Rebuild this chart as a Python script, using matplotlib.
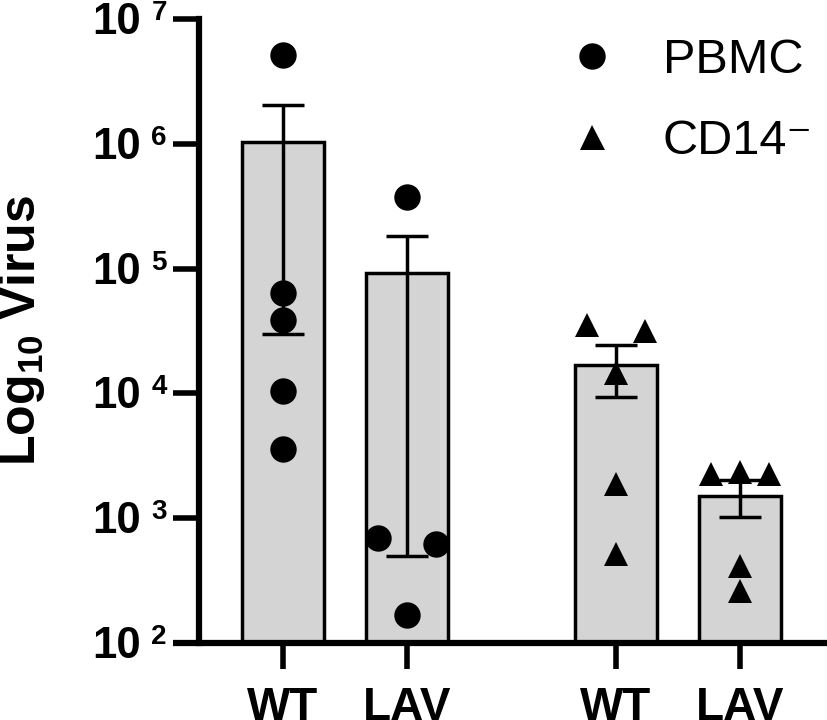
import matplotlib
matplotlib.use('Agg')
import matplotlib.pyplot as plt
from matplotlib.lines import Line2D
from matplotlib.ticker import NullLocator, FixedLocator, NullFormatter

plt.rcParams['font.family'] = ['Liberation Sans', 'DejaVu Sans']
plt.rcParams['mathtext.fontset'] = 'custom'
plt.rcParams['mathtext.rm'] = 'Liberation Sans:bold'
plt.rcParams['mathtext.it'] = 'Liberation Sans:bold'
plt.rcParams['mathtext.bf'] = 'Liberation Sans:bold'

# ---- data ----
group_labels = ['WT', 'LAV', 'WT', 'LAV']
legend_labels = ['PBMC', 'CD14\u207b']
means = [1.04e6, 9.2e4, 1.69e4, 1.52e3]
sems = [1.01e6, 9.15e4, 7.5e3, 5.0e2]
pbmc_wt = [5.15e6, 6.4e4, 3.9e4, 1.04e4, 3.6e3]
pbmc_lav = [3.75e5, 689, 619, 167]
cd14_wt = [3.56e4, 3.15e4, 1.47e4, 1.87e3, 515]
cd14_lav = [2.25e3, 2.35e3, 2.25e3, 415, 262]
ytick_values = [1e2, 1e3, 1e4, 1e5, 1e6, 1e7]
ytick_base = '10'
ytick_exponents = ['2', '3', '4', '5', '6', '7']

# ---- layout (positions / scatter spread) ----
positions = [0, 1, 2.685, 3.685]
spread = 0.236
jitter_pbmc_wt = [0, 0, 0, 0, 0]
jitter_pbmc_lav = [0, -spread, spread, 0]
jitter_cd14_wt = [-spread, spread, 0, 0, 0]
jitter_cd14_lav = [-spread, 0, spread, 0, 0]

fig = plt.figure(figsize=(8.27, 7.2), dpi=100)
ax = fig.add_axes([173/827, 77/720, 654/827, 624/720])

ax.bar(positions, means, width=0.66, color='#d4d4d4', edgecolor='black',
       linewidth=2.5, zorder=1)
ax.errorbar(positions, means, yerr=sems, fmt='none', ecolor='black',
            elinewidth=2.5, capsize=14.8, capthick=2.5, zorder=2)

point_sets = [
    (positions[0], pbmc_wt, jitter_pbmc_wt, 'o', 19),
    (positions[1], pbmc_lav, jitter_pbmc_lav, 'o', 19),
    (positions[2], cd14_wt, jitter_cd14_wt, '^', 17.5),
    (positions[3], cd14_lav, jitter_cd14_lav, '^', 17.5),
]
for xc, vals, jit, mk, ms in point_sets:
    xs = [xc + j for j in jit]
    ax.plot(xs, vals, ls='none', marker=mk, ms=ms, color='black',
            markeredgewidth=0, zorder=3, clip_on=False)

ax.set_yscale('log')
ax.set_ylim(1e2, 1e7)
ax.set_xlim(-0.887, 4.387)
ax.yaxis.set_major_locator(FixedLocator(ytick_values))
ax.yaxis.set_major_formatter(NullFormatter())
ax.yaxis.set_minor_locator(NullLocator())
ax.yaxis.set_minor_formatter(NullFormatter())
ax.set_xticks(positions)
ax.set_xticklabels(group_labels, fontsize=33, fontweight='bold')

for s in ['top', 'right']:
    ax.spines[s].set_visible(False)
spine_frac = 26/654
ax.spines['left'].set_position(('axes', spine_frac))
ax.spines['left'].set_linewidth(4.5)
ax.spines['bottom'].set_linewidth(4.5)
ax.spines['left'].set_capstyle('projecting')
ax.spines['bottom'].set_capstyle('butt')

ax.tick_params(axis='y', direction='out', length=19, width=4)
ax.tick_params(axis='x', direction='out', length=19, width=4, pad=12)

# y tick labels: "10" with a small raised exponent
px = 72 / 100.0
for v, e in zip(ytick_values, ytick_exponents):
    ax.annotate(ytick_base, xy=(spine_frac, v), xycoords=('axes fraction', 'data'),
                xytext=(-(199 - 141) * px, -15 * px), textcoords='offset points',
                ha='right', va='baseline', fontsize=31.5, fontweight='bold',
                annotation_clip=False)
    ax.annotate(e, xy=(spine_frac, v), xycoords=('axes fraction', 'data'),
                xytext=(-(199 - 167) * px, -1 * px), textcoords='offset points',
                ha='right', va='baseline', fontsize=20, fontweight='bold',
                annotation_clip=False)

fig.text(22/827, 1 - 330/720, 'Log$_{10}$ Virus', rotation=90, fontsize=36,
         fontweight='bold', ha='center', va='center')

handles = [
    Line2D([], [], ls='none', marker='o', ms=19, color='black', markeredgewidth=0),
    Line2D([], [], ls='none', marker='^', ms=18, color='black', markeredgewidth=0),
]
ax.legend(handles, legend_labels, loc='upper left',
          bbox_to_anchor=(568/827, 1 - 38/720), bbox_transform=fig.transFigure,
          frameon=False, fontsize=35, handlelength=1.0, handletextpad=0.95,
          labelspacing=0.75, borderpad=0, borderaxespad=0)

fig.savefig('out.png', dpi=100)
